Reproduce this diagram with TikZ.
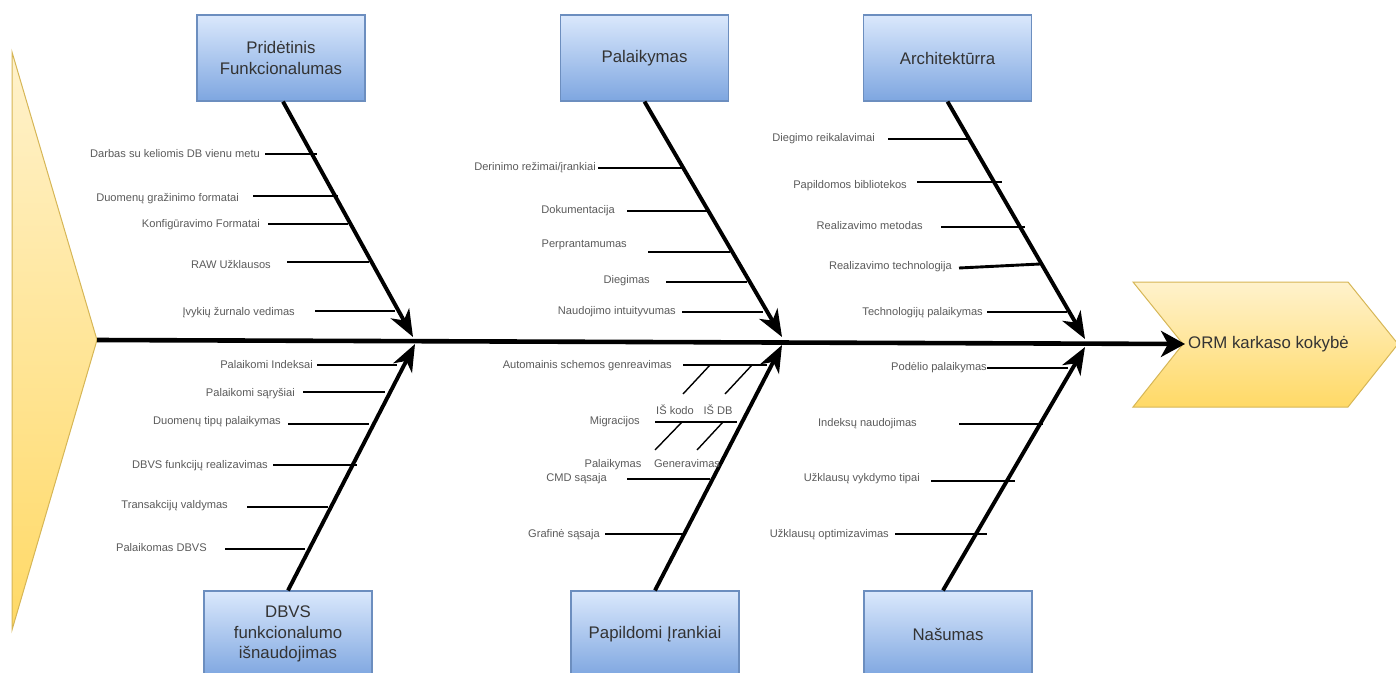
\documentclass[tikz,border=0pt]{standalone}
\usepackage{fontspec}
\setmainfont{Liberation Sans}
\usetikzlibrary{arrows.meta}

\definecolor{boxtop}{HTML}{DAE8FC}
\definecolor{boxbot}{HTML}{7EA6E0}
\definecolor{boxline}{HTML}{6C8EBF}
\definecolor{ytop}{HTML}{FFF2CC}
\definecolor{ybot}{HTML}{FFD966}
\definecolor{yline}{HTML}{D6B656}
\definecolor{lbl}{HTML}{5A5A5A}
\definecolor{cattext}{HTML}{333333}

% one cause: name, label x, label y, line x1, line x2, line y, label text
\newcommand\causeline[7]{%
  \node[lbltxt, anchor=east] (#1) at (#2,#3) {#7};
  \coordinate (#1-l) at (#4,#6);
  \coordinate (#1-r) at (#5,#6);
  \draw[subline] (#1-l) -- (#1-r);
}

\begin{document}
\begin{tikzpicture}[x=1pt,y=-1pt,
  catbox/.style={draw=boxline, line width=1.2pt, top color=boxtop, bottom color=boxbot,
    minimum width=168pt, minimum height=86pt, inner sep=2pt, align=center,
    font=\fontsize{16.8}{20.5}\selectfont, text=cattext},
  lbltxt/.style={font=\fontsize{11.1}{12}\selectfont, text=lbl, inner sep=0pt,
    text height=8pt, text depth=0pt},
  subline/.style={line width=2.9pt, black},
  thinline/.style={line width=1.4pt, black},
  bone/.style={line width=3.9pt, black, -{Stealth[length=27pt, width=21pt, inset=8pt]}},
  spine/.style={line width=4.6pt, black, -{Stealth[length=24pt, width=26pt, inset=7pt]}},
  fishpart/.style={draw=yline, line width=1pt, top color=ytop, bottom color=ybot}
]
\useasboundingbox (0,0) rectangle (1396,672);

% tail and head of the fish
\path[fishpart] (12,52) -- (97,340) -- (12,630) -- cycle;
\path[fishpart] (1133,282) -- (1348,282) -- (1398,344) -- (1348,407) -- (1133,407) -- (1183,344) -- cycle;
\coordinate (tailtip) at (97,340);
\coordinate (notch) at (1185,344);
\node[anchor=west, inner sep=0pt, font=\fontsize{16.8}{20}\selectfont, text=cattext] (effect) at (1188,344) {ORM karkaso kokybė};

% category boxes
\node[catbox] (tb1) at (281,58) {Pridėtinis\\Funkcionalumas};
\node[catbox] (tb2) at (644.5,58) {Palaikymas};
\node[catbox] (tb3) at (947.5,58) {Architektūrra};
\node[catbox] (bb1) at (288,634) {DBVS\\funkcionalumo\\išnaudojimas};
\node[catbox] (bb2) at (655,634) {Papildomi Įrankiai};
\node[catbox] (bb3) at (948,634) {Našumas};

% points where the bones meet the spine
\coordinate (j1) at (413,337);
\coordinate (j2) at (782,337);
\coordinate (j3) at (1085,339);
\coordinate (k1) at (415,344);
\coordinate (k2) at (782,345);
\coordinate (k3) at (1085,347);

% spine
\draw[spine] (tailtip) -- (notch);

% bones
\draw[bone] ([xshift=2pt]tb1.south) -- (j1);
\draw[bone] (tb2.south) -- (j2);
\draw[bone] (tb3.south) -- (j3);
\draw[bone] (bb1.north) -- (k1);
\draw[bone] (bb2.north) -- (k2);
\draw[bone] ([xshift=-5pt]bb3.north) -- (k3);

% causes: Pridėtinis Funkcionalumas
\causeline{a1}{260}{153}{265}{317}{154}{Darbas su keliomis DB vienu metu}
\causeline{a2}{239}{197}{253}{338}{196}{Duomenų gražinimo formatai}
\causeline{a3}{260}{223}{268}{348}{224}{Konfigūravimo Formatai}
\causeline{a4}{271}{264}{287}{369}{262}{RAW Užklausos}
\causeline{a5}{295}{311}{315}{395}{311}{Įvykių žurnalo vedimas}

% causes: Palaikymas
\causeline{b1}{596}{166}{598}{682}{168}{Derinimo režimai/įrankiai}
\causeline{b2}{615}{209}{627}{707}{211}{Dokumentacija}
\causeline{b3}{627}{243}{648}{730}{252}{Perprantamumas}
\causeline{b4}{650}{279}{666}{747}{282}{Diegimas}
\causeline{b5}{676}{310}{682}{763}{312}{Naudojimo intuityvumas}

% causes: Architektūrra
\causeline{c1}{875}{137}{888}{970}{139}{Diegimo reikalavimai}
\causeline{c2}{907}{184}{917}{1002}{182}{Papildomos bibliotekos}
\causeline{c3}{923}{225}{941}{1025}{227}{Realizavimo metodas}
\node[lbltxt, anchor=east] (c4) at (952,265) {Realizavimo technologija};
\coordinate (c4-l) at (959,268);
\coordinate (c4-r) at (1040,264);
\draw[subline] (c4-l) -- (c4-r);
\causeline{c5}{983}{311}{987}{1067}{312}{Technologijų palaikymas}

% causes: DBVS funkcionalumo išnaudojimas
\causeline{d1}{313}{364}{317}{397}{365}{Palaikomi Indeksai}
\causeline{d2}{295}{392}{303}{385}{392}{Palaikomi sąryšiai}
\causeline{d3}{281}{420}{288}{369}{424}{Duomenų tipų palaikymas}
\causeline{d4}{268}{464}{273}{357}{465}{DBVS funkcijų realizavimas}
\causeline{d5}{228}{504}{247}{328}{507}{Transakcijų valdymas}
\causeline{d6}{207}{547}{225}{305}{549}{Palaikomas DBVS}

% causes: Papildomi Įrankiai
\causeline{e1}{672}{364}{683}{767}{365}{Automainis schemos genreavimas}
\coordinate (e1a) at (710,365);  \coordinate (e1a') at (683,394);
\coordinate (e1b) at (752,365);  \coordinate (e1b') at (725,394);
\draw[thinline] (e1a) -- (e1a');
\draw[thinline] (e1b) -- (e1b');
\node[lbltxt] (iskodo) at (675,410) {IŠ kodo};
\node[lbltxt] (isdb) at (718,410) {IŠ DB};
\causeline{e2}{640}{420}{655}{737}{422}{Migracijos}
\coordinate (e2a) at (682,422);  \coordinate (e2a') at (655,450);
\coordinate (e2b) at (723,422);  \coordinate (e2b') at (697,450);
\draw[thinline] (e2a) -- (e2a');
\draw[thinline] (e2b) -- (e2b');
\node[lbltxt] (palaik) at (613,463) {Palaikymas};
\node[lbltxt] (gener) at (687,463) {Generavimas};
\causeline{e3}{607}{477}{627}{710}{479}{CMD sąsaja}
\causeline{e4}{600}{533}{605}{684}{534}{Grafinė sąsaja}

% causes: Našumas
\causeline{f1}{987}{366}{987}{1068}{368}{Podėlio palaikymas}
\causeline{f2}{917}{422}{959}{1043}{424}{Indeksų naudojimas}
\causeline{f3}{920}{477}{931}{1015}{481}{Užklausų vykdymo tipai}
\causeline{f4}{889}{533}{895}{987}{534}{Užklausų optimizavimas}
\end{tikzpicture}
\end{document}
